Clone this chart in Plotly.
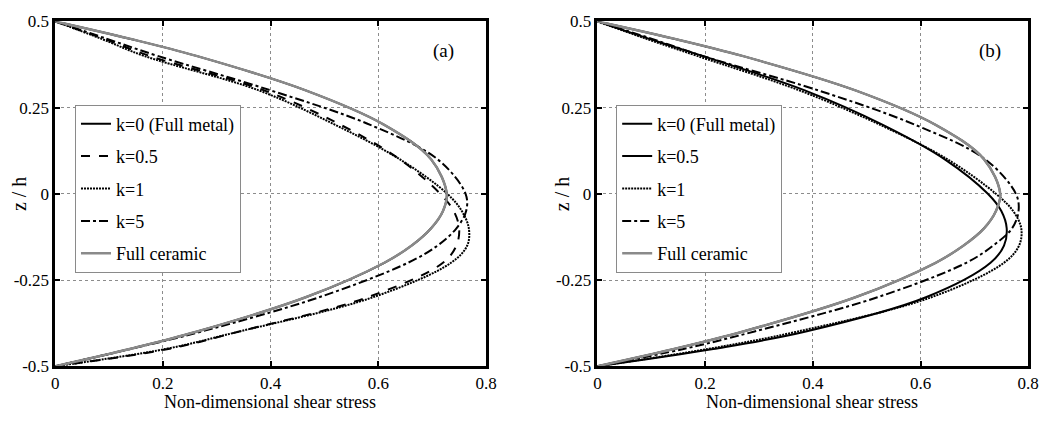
import plotly.graph_objects as go

# z / h positions where curves were read
z = [0.5, 0.45, 0.4, 0.3, 0.2, 0.1, 0.0, -0.05, -0.1, -0.15, -0.2, -0.3, -0.4, -0.45, -0.5]

# Panel (a)
a_k0   = [0, 0.138, 0.262, 0.465, 0.611, 0.698, 0.727, 0.720, 0.698, 0.662, 0.611, 0.465, 0.262, 0.138, 0]
a_k05  = [0, 0.090, 0.175, 0.388, 0.530, 0.640, 0.715, 0.740, 0.750, 0.745, 0.720, 0.580, 0.340, 0.210, 0]
a_k1   = [0, 0.085, 0.165, 0.378, 0.520, 0.640, 0.728, 0.755, 0.768, 0.765, 0.735, 0.590, 0.340, 0.205, 0]
a_k5   = [0, 0.095, 0.190, 0.400, 0.585, 0.710, 0.762, 0.763, 0.745, 0.710, 0.655, 0.490, 0.270, 0.140, 0]
a_cer  = [0, 0.138, 0.262, 0.465, 0.611, 0.698, 0.727, 0.720, 0.698, 0.662, 0.611, 0.465, 0.262, 0.138, 0]

# Panel (b)
b_k0   = [0, 0.142, 0.269, 0.479, 0.628, 0.718, 0.748, 0.740, 0.718, 0.680, 0.628, 0.479, 0.269, 0.142, 0]
b_k05  = [0, 0.095, 0.195, 0.385, 0.530, 0.645, 0.725, 0.750, 0.760, 0.755, 0.730, 0.610, 0.385, 0.215, 0]
b_k1   = [0, 0.090, 0.185, 0.375, 0.525, 0.650, 0.740, 0.772, 0.787, 0.783, 0.755, 0.620, 0.370, 0.205, 0]
b_k5   = [0, 0.100, 0.195, 0.410, 0.590, 0.720, 0.777, 0.782, 0.770, 0.735, 0.685, 0.520, 0.290, 0.160, 0]
b_cer  = [0, 0.142, 0.269, 0.479, 0.628, 0.718, 0.748, 0.740, 0.718, 0.680, 0.628, 0.479, 0.269, 0.142, 0]

names = ["k=0 (Full metal)", "k=0.5", "k=1", "k=5", "Full ceramic"]
x_ticks = [0, 0.2, 0.4, 0.6, 0.8]
x_tick_text = ["0", "0.2", "0.4", "0.6", "0.8"]
y_ticks = [-0.5, -0.25, 0, 0.25, 0.5]
y_tick_text = ["-0.5", "-0.25", "0", "0.25", "0.5"]

FONT = "Liberation Serif"
GRAY = "#8a8a8a"

styles_a = [("black", "solid", 2), ("black", "dash", 2), ("black", "2px,1px", 2), ("black", "dashdot", 2), (GRAY, "solid", 2.5)]
styles_b = [("black", "solid", 2), ("black", "solid", 2), ("black", "2px,1px", 2), ("black", "dashdot", 2), (GRAY, "solid", 2.5)]

fig = go.Figure()

for i, (vals, (c, d, w)) in enumerate(zip([a_k0, a_k05, a_k1, a_k5, a_cer], styles_a)):
    fig.add_trace(go.Scatter(x=vals, y=z, mode="lines", name=names[i],
                             line=dict(color=c, dash=d, width=w, shape="spline", smoothing=1),
                             xaxis="x", yaxis="y", legend="legend", legendgroup="a%d" % i))
for i, (vals, (c, d, w)) in enumerate(zip([b_k0, b_k05, b_k1, b_k5, b_cer], styles_b)):
    fig.add_trace(go.Scatter(x=vals, y=z, mode="lines", name=names[i],
                             line=dict(color=c, dash=d, width=w, shape="spline", smoothing=1),
                             xaxis="x2", yaxis="y2", legend="legend2", legendgroup="b%d" % i))

W, H = 1056, 423
def px(xp): return xp / W
def py(yp): return 1 - yp / H

tickfont = dict(family=FONT, size=17, color="black")
common_x = dict(range=[0, 0.8], tickvals=x_ticks, ticktext=x_tick_text,
                showline=True, linewidth=2.5, linecolor="black", mirror="ticks",
                ticks="inside", ticklen=5, tickwidth=2, tickcolor="black",
                showgrid=True, gridcolor="#8c8c8c", griddash="dot", gridwidth=1,
                zeroline=False, tickfont=tickfont)
common_y = dict(range=[-0.5, 0.5], tickvals=y_ticks, ticktext=y_tick_text,
                showline=True, linewidth=2.5, linecolor="black", mirror="ticks",
                ticks="inside", ticklen=5, tickwidth=2, tickcolor="black",
                showgrid=True, gridcolor="#8c8c8c", griddash="dot", gridwidth=1,
                zeroline=False, tickfont=tickfont)

legend_common = dict(bordercolor="#8a8a8a", borderwidth=1, bgcolor="white",
                     font=dict(family=FONT, size=18, color="black"),
                     xanchor="left", yanchor="top", traceorder="grouped", tracegroupgap=6,
                     itemwidth=30)

def ann(text, x, y, size=16, angle=0):
    return dict(text=text, x=px(x), y=py(y), xref="paper", yref="paper", showarrow=False,
                xanchor="center", yanchor="middle", textangle=angle,
                font=dict(family=FONT, size=size, color="black"))

fig.update_layout(
    width=W, height=H, margin=dict(l=0, r=0, t=0, b=0),
    paper_bgcolor="white", plot_bgcolor="white",
    font=dict(family=FONT, color="black"),
    xaxis=dict(domain=[px(52), px(489)], anchor="y", **common_x),
    yaxis=dict(domain=[py(374), py(13)], anchor="x", **common_y),
    xaxis2=dict(domain=[px(602), px(1039)], anchor="y2", **common_x),
    yaxis2=dict(domain=[py(374), py(13)], anchor="x2", **common_y),
    legend=dict(x=px(72), y=py(100), **legend_common),
    legend2=dict(x=px(621), y=py(100), **legend_common),
    annotations=[
        ann("(a)", 446, 44, 19),
        ann("(b)", 1000, 44, 19),
        ann("z / h", 16, 194, 20, -90),
        ann("z / h", 566, 194, 20, -90),
        ann("Non-dimensional shear stress", 270, 411, 18),
        ann("Non-dimensional shear stress", 820, 411, 18),
    ],
)

fig.write_html("out.html")
